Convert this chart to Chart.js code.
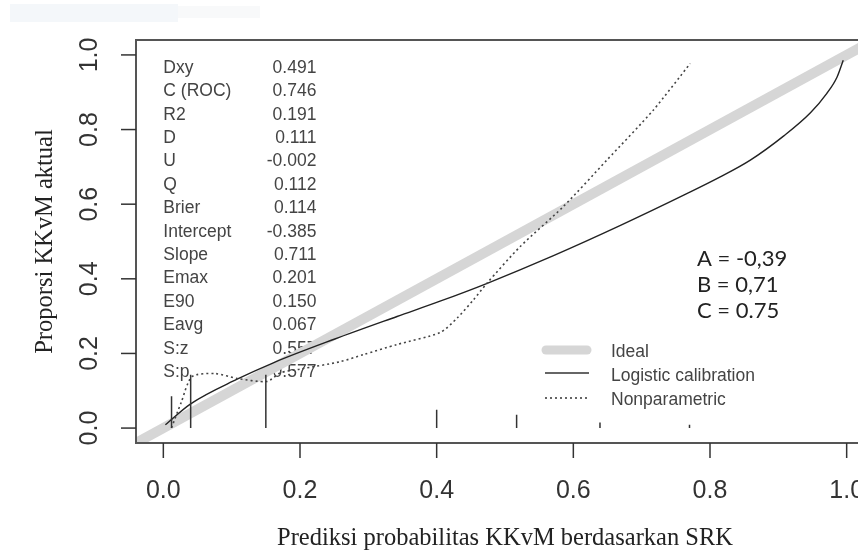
<!DOCTYPE html>
<html><head><meta charset="utf-8">
<script src="https://cdn.jsdelivr.net/npm/chart.js@4/dist/chart.umd.min.js"></script>
<style>html,body{margin:0;padding:0;background:#fff;overflow:hidden;width:858px;height:557px}
#wrap{position:relative;width:880px;height:557px}</style></head>
<body><div id="wrap"><canvas id="c" width="880" height="557"></canvas></div>
<script>
const tickValues=[0,0.2,0.4,0.6,0.8,1.0];
const tickLabels=["0.0","0.2","0.4","0.6","0.8","1.0"];
const idealX=[-0.04,1.04];
const idealY=[-0.04,1.04];
const logisticX=[0.003,0.04,0.108,0.161,0.25,0.342,0.405,0.474,0.571,0.669,0.766,0.815,0.859,0.908,0.947,0.971,0.986,0.995];
const logisticY=[0.009,0.065,0.131,0.175,0.238,0.299,0.340,0.388,0.462,0.543,0.628,0.673,0.718,0.783,0.845,0.897,0.941,0.986];
const nonparX=[0.012,0.026,0.042,0.076,0.108,0.152,0.171,0.2,0.259,0.293,0.342,0.405,0.430,0.454,0.474,0.522,0.585,0.649,0.717,0.771];
const nonparY=[0.001,0.068,0.138,0.146,0.133,0.125,0.148,0.158,0.178,0.197,0.224,0.256,0.295,0.344,0.389,0.486,0.593,0.718,0.852,0.977];
const spikeX=[0.012,0.040,0.150,0.400,0.517,0.639,0.770];
const spikeH=[0.085,0.143,0.143,0.049,0.036,0.015,0.009];
const statNames=["Dxy","C (ROC)","R2","D","U","Q","Brier","Intercept","Slope","Emax","E90","Eavg","S:z","S:p"];
const statValues=["0.491","0.746","0.191","0.111","-0.002","0.112","0.114","-0.385","0.711","0.201","0.150","0.067","0.557","0.577"];
const noteLines=["A = -0,39","B = 0,71","C = 0.75"];
const legendLabels=["Ideal","Logistic calibration","Nonparametric"];
const xTitle="Prediksi probabilitas KKvM berdasarkan SRK";
const yTitle="Proporsi KKvM aktual";

const zip=(xs,ys)=>xs.map((x,i)=>({x:x,y:ys[i]}));
const spikes=[];
spikeX.forEach((x,i)=>{spikes.push({x:x,y:0},{x:x,y:spikeH[i]},{x:x,y:null});});

const SANS="'Liberation Sans', Arial, sans-serif";
const SERIF="'Liberation Serif', 'Times New Roman', serif";

const deco={
  id:'deco',
  beforeDraw(chart){
    const ctx=chart.ctx;
    ctx.save();
    ctx.fillStyle='#fff';ctx.fillRect(0,0,chart.width,chart.height);
    ctx.fillStyle='#f4f7fa';ctx.fillRect(10,4,168,18);
    ctx.fillStyle='#f8f9fa';ctx.fillRect(178,6,82,12);
    ctx.restore();
  },
  beforeDatasetsDraw(chart){
    const ctx=chart.ctx;const xs=chart.scales.x;
    ctx.save();
    ctx.fillStyle='#444';
    ctx.font='17.5px '+SANS;
    ctx.textBaseline='middle';
    const x0=xs.getPixelForValue(0), x1=xs.getPixelForValue(0.224);
    statNames.forEach((n,i)=>{
      const y=68+i*23.4;
      ctx.textAlign='left';ctx.fillText(n,x0,y);
      ctx.textAlign='right';ctx.fillText(statValues[i],x1,y);
    });
    ctx.restore();
  },
  afterDraw(chart){
    const ctx=chart.ctx;const a=chart.chartArea;const xs=chart.scales.x, ys=chart.scales.y;
    ctx.save();
    // box
    ctx.strokeStyle='#555';ctx.lineWidth=2;
    ctx.strokeRect(a.left,a.top,a.right-a.left,a.bottom-a.top);
    // ticks
    ctx.strokeStyle='#333';ctx.lineWidth=1.5;
    ctx.fillStyle='#333';
    ctx.font='25px '+SANS;
    tickValues.forEach((v,i)=>{
      const px=xs.getPixelForValue(v);
      ctx.beginPath();ctx.moveTo(px,a.bottom);ctx.lineTo(px,a.bottom+15);ctx.stroke();
      ctx.textAlign='center';ctx.textBaseline='middle';
      ctx.fillText(tickLabels[i],px,491);
      const py=ys.getPixelForValue(v);
      ctx.beginPath();ctx.moveTo(a.left,py);ctx.lineTo(a.left-15,py);ctx.stroke();
      ctx.save();ctx.translate(90,py);ctx.rotate(-Math.PI/2);
      ctx.fillText(tickLabels[i],0,0);ctx.restore();
    });
    // titles
    ctx.fillStyle='#222';
    ctx.font='24.5px '+SERIF;
    ctx.textAlign='center';ctx.textBaseline='alphabetic';
    ctx.fillText(xTitle,(a.left+a.right)/2,545);
    ctx.save();ctx.translate(52,(a.top+a.bottom)/2);ctx.rotate(-Math.PI/2);ctx.fillText(yTitle,0,0);ctx.restore();
    // notes
    ctx.fillStyle='#222';
    ctx.font='22px Lato, sans-serif';
    ctx.textAlign='left';ctx.textBaseline='middle';
    noteLines.forEach((t,i)=>ctx.fillText(t,697,259+i*26));
    // legend
    ctx.font='17.5px '+SANS;ctx.fillStyle='#444';
    const ly=[351,375,399];
    legendLabels.forEach((t,i)=>ctx.fillText(t,611,ly[i]+1));
    ctx.lineCap='round';
    ctx.strokeStyle='#d6d6d6';ctx.lineWidth=9;
    ctx.beginPath();ctx.moveTo(546,ly[0]-1);ctx.lineTo(587,ly[0]-1);ctx.stroke();
    ctx.lineCap='butt';
    ctx.strokeStyle='#333';ctx.lineWidth=1.5;
    ctx.beginPath();ctx.moveTo(545,ly[1]-2);ctx.lineTo(589,ly[1]-2);ctx.stroke();
    ctx.setLineDash([2,3]);
    ctx.beginPath();ctx.moveTo(545,ly[2]-1);ctx.lineTo(589,ly[2]-1);ctx.stroke();
    ctx.restore();
  }
};

new Chart(document.getElementById('c'),{
  type:'scatter',
  data:{datasets:[
    {label:'Ideal',data:zip(idealX,idealY),showLine:true,borderColor:'#d6d6d6',borderWidth:10,pointRadius:0,order:10},
    {label:'Logistic calibration',data:zip(logisticX,logisticY),showLine:true,borderColor:'#222',borderWidth:1.4,pointRadius:0,cubicInterpolationMode:'monotone',order:2},
    {label:'Nonparametric',data:zip(nonparX,nonparY),showLine:true,borderColor:'#444',borderWidth:1.6,borderDash:[2,3],pointRadius:0,tension:0.25,order:1},
    {label:'Spikes',data:spikes,showLine:true,spanGaps:false,borderColor:'#333',borderWidth:1.5,pointRadius:0,order:0}
  ]},
  options:{
    responsive:false,animation:false,devicePixelRatio:1,
    layout:{padding:{left:136,right:6,top:40,bottom:114}},
    scales:{
      x:{type:'linear',min:-0.04,max:1.04,display:false},
      y:{type:'linear',min:-0.04,max:1.04,display:false}
    },
    plugins:{legend:{display:false},tooltip:{enabled:false}}
  },
  plugins:[deco]
});
</script></body></html>
